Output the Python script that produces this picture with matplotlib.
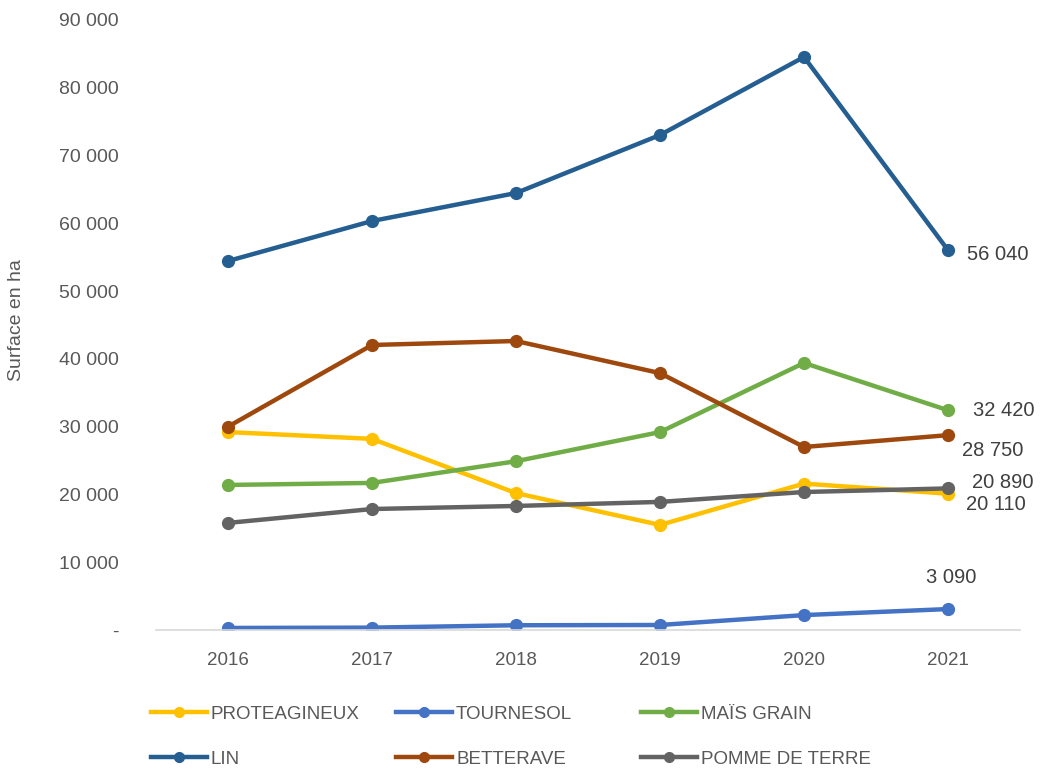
import matplotlib
matplotlib.use("Agg")
import matplotlib.pyplot as plt
from matplotlib.ticker import FuncFormatter
from matplotlib.lines import Line2D

# Données (surface en ha)
annees = ["2016", "2017", "2018", "2019", "2020", "2021"]
series = ["PROTEAGINEUX", "TOURNESOL", "MAÏS GRAIN", "LIN", "BETTERAVE", "POMME DE TERRE"]
proteagineux = [29200, 28200, 20200, 15500, 21600, 20110]
tournesol = [300, 350, 700, 740, 2200, 3090]
mais_grain = [21400, 21700, 24900, 29200, 39400, 32420]
lin = [54440, 60340, 64470, 73030, 84540, 56040]
betterave = [30000, 42050, 42640, 37900, 27000, 28750]
pomme_de_terre = [15800, 17850, 18300, 18900, 20360, 20890]

valeurs = [proteagineux, tournesol, mais_grain, lin, betterave, pomme_de_terre]
couleurs = ["#FFC000", "#4472C4", "#70AD47", "#255E91", "#9E480E", "#636363"]

# décalage des étiquettes de la dernière valeur (en points)
offsets = {
    "PROTEAGINEUX": (13, -8),
    "TOURNESOL": (2, 23),
    "MAÏS GRAIN": (18, 0),
    "LIN": (14, -3),
    "BETTERAVE": (10, -11),
    "POMME DE TERRE": (17, 4),
}

plt.rcParams['font.family'] = ['Liberation Sans Narrow', 'Liberation Sans', 'DejaVu Sans']

fig = plt.figure(figsize=(10.44, 7.71), dpi=100)
ax = fig.add_axes([156 / 1044, 1 - 630 / 771, 864 / 1044, 610 / 771])

x = list(range(len(annees)))
for nom, vals, c in zip(series, valeurs, couleurs):
    ax.plot(x, vals, color=c, lw=3.2, marker="o", markersize=8.5,
            solid_capstyle="round", label=nom)
    dx, dy = offsets[nom]
    ha = "center" if nom == "TOURNESOL" else "left"
    ax.annotate(f"{vals[-1]:,}".replace(",", " "), (x[-1], vals[-1]),
                xytext=(dx, dy), textcoords="offset points", ha=ha, va="center",
                fontsize=14.5, color="#404040")

ax.set_xlim(-0.5, len(annees) - 0.5)
ax.set_ylim(0, 90000)
ax.set_xticks(x)
ax.set_xticklabels(annees)
ax.set_yticks(range(0, 90001, 10000))
ax.yaxis.set_major_formatter(FuncFormatter(
    lambda v, p: "-" if v == 0 else f"{int(v):,}".replace(",", " ")))

for s in ["top", "right", "left"]:
    ax.spines[s].set_visible(False)
ax.spines["bottom"].set_color("#d9d9d9")
ax.spines["bottom"].set_linewidth(1.2)
ax.tick_params(axis="y", length=0, pad=27, labelsize=14, labelcolor="#595959")
ax.tick_params(axis="x", length=0, pad=16, labelsize=13.5, labelcolor="#595959")

ax.set_ylabel("Surface en ha", fontsize=14, color="#595959")
ax.yaxis.set_label_coords(-0.152, 0.508)

# légende en 2 lignes x 3 colonnes
for i, (nom, c) in enumerate(zip(series, couleurs)):
    ligne, col = divmod(i, 3)
    h = Line2D([], [], color=c, lw=3.2, marker="o", markersize=7)
    leg = fig.legend([h], [nom], loc="center left",
                     bbox_to_anchor=((151 + col * 245) / 1044, 1 - (714 + ligne * 45) / 771),
                     frameon=False, fontsize=13.5, handlelength=3.0,
                     handletextpad=0.2, borderpad=0, borderaxespad=0)
    for t in leg.get_texts():
        t.set_color("#595959")

fig.savefig("out.png", dpi=100)
